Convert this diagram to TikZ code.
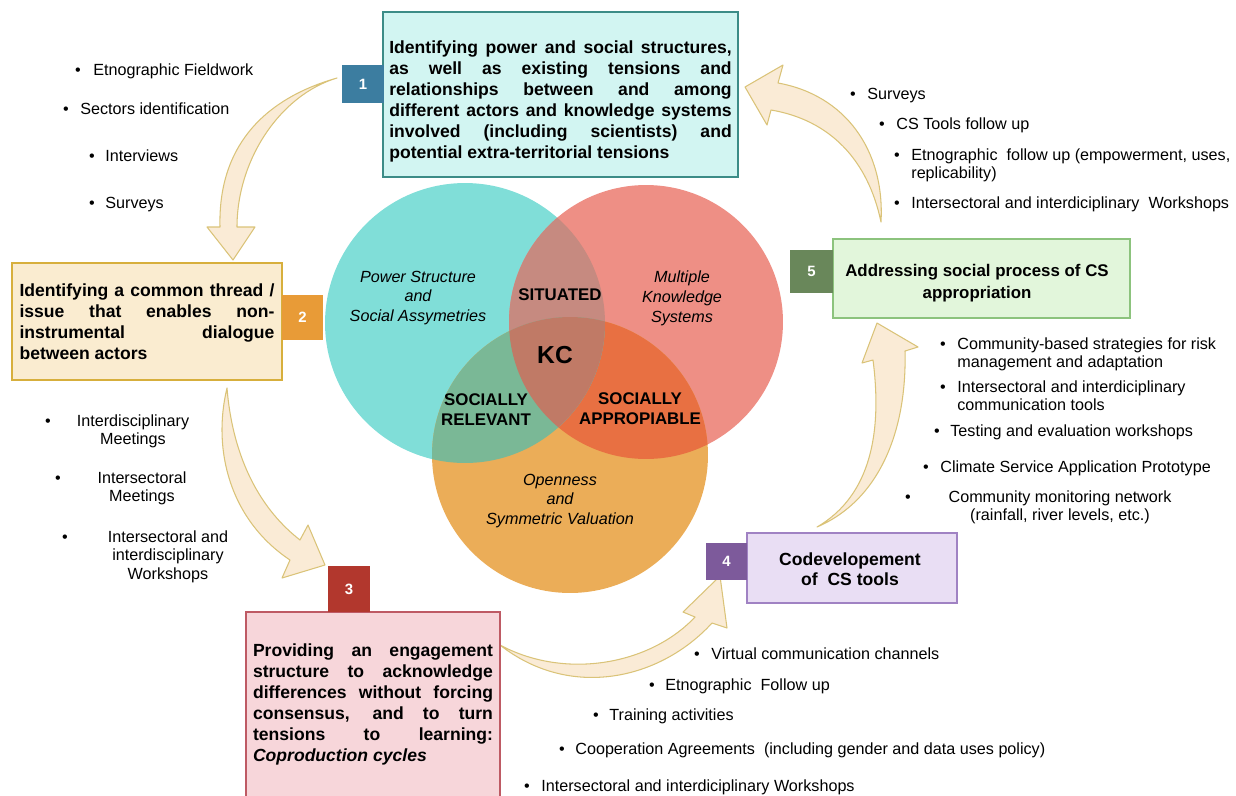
\documentclass[tikz,border=0pt]{standalone}
\usepackage{fontspec}
\setmainfont{Liberation Sans}
\usetikzlibrary{positioning}
\tolerance=10000
\hyphenpenalty=10000

\definecolor{venncyan}{RGB}{128,222,216}
\definecolor{vennred}{RGB}{238,143,133}
\definecolor{vennorange}{RGB}{235,173,88}
\definecolor{cyanred}{RGB}{198,138,128}
\definecolor{cyanorange}{RGB}{122,184,150}
\definecolor{redorange}{RGB}{232,112,66}
\definecolor{allthree}{RGB}{192,122,102}
\definecolor{onefill}{RGB}{210,245,242}
\definecolor{onedraw}{RGB}{60,140,135}
\definecolor{onetab}{RGB}{60,125,160}
\definecolor{twofill}{RGB}{250,236,208}
\definecolor{twodraw}{RGB}{215,175,60}
\definecolor{twotab}{RGB}{232,155,55}
\definecolor{threefill}{RGB}{247,214,218}
\definecolor{threedraw}{RGB}{190,90,100}
\definecolor{threetab}{RGB}{178,55,45}
\definecolor{fourfill}{RGB}{233,222,244}
\definecolor{fourdraw}{RGB}{160,130,195}
\definecolor{fourtab}{RGB}{125,90,155}
\definecolor{fivefill}{RGB}{226,246,219}
\definecolor{fivedraw}{RGB}{140,195,125}
\definecolor{fivetab}{RGB}{105,135,90}
\definecolor{arrowfill}{RGB}{250,235,214}
\definecolor{arrowdraw}{RGB}{218,195,120}

\tikzset{
  box/.style={draw, line width=0.8pt, inner sep=0pt},
  boxtext/.style={inner sep=0pt, font=\fontsize{10}{11.9}\selectfont\bfseries},
  tab/.style={text=white, inner sep=0pt, font=\fontsize{8.5}{10}\selectfont\bfseries},
  itm/.style={anchor=base west, inner sep=0pt, font=\fontsize{9.2}{10.8}\selectfont},
  dot/.style={anchor=base, inner sep=0pt, font=\fontsize{9.2}{10.8}\selectfont},
  venn/.style={align=center, inner sep=0pt, font=\fontsize{9.2}{11.3}\selectfont\itshape},
  vennbold/.style={align=center, inner sep=0pt, font=\fontsize{9.6}{11.3}\selectfont\bfseries},
  bigarrow/.style={fill=arrowfill, draw=arrowdraw, line width=0.6pt, line join=round},
}

% bullet item: name, bullet x, text x, baseline y, text
\newcommand{\bitem}[5]{%
  \node[dot] (#1b) at (#2,#4) {\textbullet};
  \node[itm] (#1) at (#3,#4) {#5};}
% bullet item with centred lines: name, bullet x, centre x, baseline y, lines
\newcommand{\citem}[5]{%
  \node[dot] (#1b) at (#2,#4) {\textbullet};
  \node[dot] (#1) at (#3,#4) {\begin{tabular}[t]{@{}c@{}}#5\end{tabular}};}
\newcommand{\itemlines}[1]{\begin{tabular}[t]{@{}l@{}}#1\end{tabular}}

\begin{document}
\begin{tikzpicture}[x=0.02cm, y=-0.02cm]
  \useasboundingbox (0,0) rectangle (1236,795);

  % venn diagram
  \coordinate (cc) at (465,323);
  \coordinate (rc) at (646,322);
  \coordinate (oc) at (570,455);
  \fill[venncyan] (cc) circle[radius=2.8cm];
  \fill[vennred] (rc) circle[radius=2.74cm];
  \fill[vennorange] (oc) circle[radius=2.76cm];
  \begin{scope}
    \clip (rc) circle[radius=2.74cm];
    \fill[redorange] (oc) circle[radius=2.76cm];
  \end{scope}
  \begin{scope}
    \clip (cc) circle[radius=2.8cm];
    \fill[cyanred] (rc) circle[radius=2.74cm];
    \fill[cyanorange] (oc) circle[radius=2.76cm];
    \clip (rc) circle[radius=2.74cm];
    \fill[allthree] (oc) circle[radius=2.76cm];
  \end{scope}

  \node[venn] (pss) at (418,298) {Power Structure\\and\\Social Assymetries};
  \node[venn] (mks) at (682,298) {Multiple\\Knowledge\\Systems};
  \node[venn] (osv) at (560,501) {Openness\\and\\Symmetric Valuation};
  \node[vennbold] (sit) at (560,295) {SITUATED};
  \node[vennbold, font=\fontsize{14}{16}\selectfont\bfseries] (kc) at (555,355) {KC};
  \node[vennbold] (srl) at (486,410) {SOCIALLY\\RELEVANT};
  \node[vennbold] (sap) at (640,409) {SOCIALLY\\APPROPIABLE};

  % curved arrows
  \filldraw[bigarrow] (337,78) .. controls (260,100) and (218,150) .. (220,227)
    -- (207,227) -- (233,260) -- (255,227) -- (237,227)
    .. controls (237,160) and (280,95) .. cycle;
  \filldraw[bigarrow] (227,388) .. controls (212,450) and (230,520) .. (290,560)
    -- (282,578) -- (325,565) -- (308,525) -- (300,540)
    .. controls (255,505) and (232,450) .. cycle;
  \filldraw[bigarrow] (500,645) .. controls (570,700) and (660,680) .. (712,623)
    -- (727,628) -- (720,576) -- (683,612) -- (695,617)
    .. controls (650,665) and (565,680) .. cycle;
  \filldraw[bigarrow] (817,527) .. controls (880,500) and (907,430) .. (905,351)
    -- (918,347) -- (877,323) -- (862,363) -- (873,360)
    .. controls (882,430) and (872,495) .. cycle;
  \filldraw[bigarrow] (881,222) .. controls (885,150) and (845,95) .. (778,83)
    -- (783,65) -- (745,87) -- (767,125) -- (771,110)
    .. controls (830,120) and (868,160) .. cycle;

  % boxes
  \node[box, boxtext, fill=onefill, draw=onedraw, minimum width=7.1cm, minimum height=3.3cm,
    text width=6.85cm, align=justify] (b1) at (560.5,94.5)
    {\rule{0pt}{15pt}Identifying power and social structures,\linebreak as well as existing tensions and\linebreak relationships between and among\linebreak different actors and knowledge systems\linebreak involved (including scientists) and\linebreak potential extra-territorial tensions};
  \node[tab, fill=onetab, minimum width=0.84cm, minimum height=0.76cm] (n1) at (363,84) {1};

  \node[box, boxtext, fill=twofill, draw=twodraw, minimum width=5.4cm, minimum height=2.34cm,
    text width=5.1cm, align=justify] (b2) at (147,321.5)
    {Identifying a common thread /\linebreak issue that enables non-\linebreak instrumental dialogue\linebreak between actors};
  \node[tab, fill=twotab, minimum width=0.82cm, minimum height=0.9cm] (n2) at (302.5,317.5) {2};

  \node[box, boxtext, fill=threefill, draw=threedraw, minimum width=5.08cm, minimum height=3.7cm,
    text width=4.8cm, align=justify] (b3) at (373,704.5)
    {Providing an engagement\linebreak structure to acknowledge\linebreak differences without forcing\linebreak consensus, and to turn\linebreak tensions to learning:\linebreak \textit{Coproduction cycles}};
  \node[tab, fill=threetab, minimum width=0.84cm, minimum height=0.92cm] (n3) at (349,589) {3};

  \node[box, fill=fourfill, draw=fourdraw, minimum width=4.2cm, minimum height=1.4cm] (b4) at (852,568) {};
  \node[boxtext, align=center, font=\fontsize{10}{11.6}\selectfont\bfseries] (t4) at (850,569) {Codevelopement\\of\ \ CS tools};
  \node[tab, fill=fourtab, minimum width=0.82cm, minimum height=0.74cm] (n4) at (726.5,561.5) {4};

  \node[box, fill=fivefill, draw=fivedraw, minimum width=5.94cm, minimum height=1.58cm] (b5) at (981.5,278.5) {};
  \node[boxtext, align=center, font=\fontsize{9.6}{12.2}\selectfont\bfseries] (t5) at (977,283) {Addressing social process of CS\\appropriation};
  \node[tab, fill=fivetab, minimum width=0.86cm, minimum height=0.86cm] (n5) at (811.5,271.5) {5};

  % activity lists
  \bitem{fw}{78}{93}{75}{Etnographic Fieldwork}
  \bitem{si}{66}{80}{114}{Sectors identification}
  \bitem{iv}{92}{105}{161}{Interviews}
  \bitem{sv}{92}{105}{208}{Surveys}

  \citem{idm}{48}{133}{426}{Interdisciplinary\\Meetings}
  \citem{ism}{58}{142}{483}{Intersectoral\\Meetings}
  \citem{isw}{65}{168}{542}{Intersectoral and\\interdisciplinary\\Workshops}

  \bitem{rsv}{853}{867}{99}{Surveys}
  \bitem{rcs}{882}{896}{129}{CS Tools follow up}
  \bitem{ref}{897}{911}{160}{\itemlines{Etnographic\ \ follow up (empowerment, uses,\\replicability)}}
  \bitem{riw}{897}{911}{208}{Intersectoral and interdiciplinary\ \ Workshops}

  \bitem{cbs}{943}{957}{349}{\itemlines{Community-based strategies for risk\\management and adaptation}}
  \bitem{iic}{943}{957}{392}{\itemlines{Intersectoral and interdiciplinary\\communication tools}}
  \bitem{tew}{937}{950}{436}{Testing and evaluation workshops}
  \bitem{csa}{926}{940}{472}{Climate Service Application Prototype}
  \citem{cmn}{908}{1060}{502}{Community monitoring network\\(rainfall, river levels, etc.)}

  \bitem{vcc}{697}{711}{659}{Virtual communication channels}
  \bitem{efu}{652}{665}{690}{Etnographic\ \ Follow up}
  \bitem{tra}{596}{609}{720}{Training activities}
  \bitem{coa}{562}{575}{754}{Cooperation Agreements\ \ (including gender and data uses policy)}
  \bitem{iwb}{527}{541}{791}{Intersectoral and interdiciplinary Workshops}
\end{tikzpicture}
\end{document}
